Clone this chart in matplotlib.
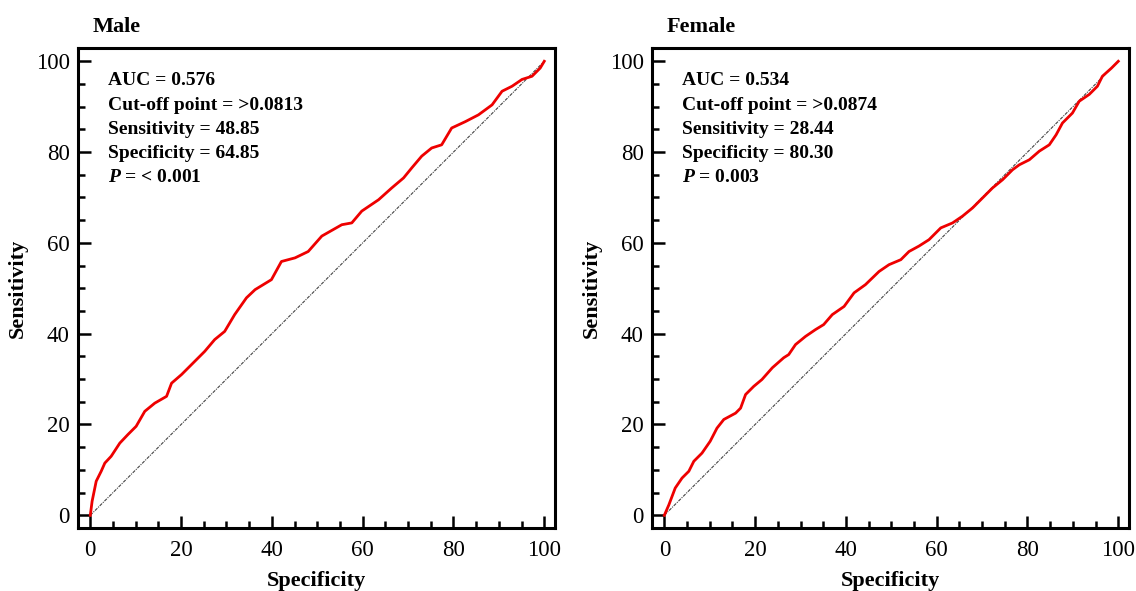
import matplotlib
matplotlib.use("Agg")
import matplotlib.pyplot as plt
from matplotlib.ticker import MultipleLocator

# --------- DATA ---------
male_x = [0, 0.4, 1.3, 2.4, 3.2, 4.6, 6.5, 8.3, 10.1, 12.0, 14.2, 16.8, 17.9,
          20.1, 23.0, 25.2, 27.4, 29.6, 31.8, 34.4, 36.3, 39.9, 42.1, 45.1,
          48.0, 51.0, 55.4, 57.6, 59.8, 63.5, 66.4, 69.0, 70.8, 73.0, 75.2,
          77.4, 79.6, 82.6, 85.5, 88.5, 90.7, 92.9, 95.1, 97.3, 99.1, 100]
male_y = [0, 3.1, 7.5, 9.7, 11.5, 13.0, 15.9, 17.8, 19.6, 22.9, 24.7, 26.2, 29.1,
          31.0, 33.9, 36.1, 38.7, 40.5, 44.2, 47.9, 49.7, 51.9, 55.9, 56.7,
          58.1, 61.5, 64.0, 64.4, 67.0, 69.5, 72.1, 74.3, 76.5, 79.1, 80.9,
          81.6, 85.3, 86.7, 88.2, 90.4, 93.4, 94.5, 96.0, 96.7, 98.5, 100]

female_x = [0, 1.0, 2.4, 3.9, 5.4, 6.5, 8.3, 10.1, 11.6, 13.1, 15.7, 16.8, 17.9,
            19.7, 21.5, 23.8, 26.3, 27.4, 28.9, 31.1, 33.3, 35.1, 37.0, 39.6,
            41.8, 44.3, 47.3, 49.5, 52.1, 53.9, 56.1, 58.3, 60.9, 63.5, 65.7,
            67.9, 70.1, 72.3, 74.5, 76.7, 78.2, 80.4, 82.6, 84.8, 86.3, 87.7,
            89.9, 91.4, 93.6, 95.4, 96.5, 98.5, 100]
female_y = [0, 2.3, 6.0, 8.2, 9.7, 11.9, 13.7, 16.3, 19.2, 21.1, 22.5, 23.6, 26.6,
            28.4, 29.9, 32.5, 34.7, 35.4, 37.6, 39.4, 40.9, 42.0, 44.2, 46.0,
            49.0, 50.8, 53.7, 55.2, 56.3, 58.1, 59.3, 60.7, 63.3, 64.4, 65.9,
            67.7, 69.9, 72.1, 73.9, 76.1, 77.2, 78.3, 80.2, 81.6, 83.8, 86.4,
            88.6, 91.2, 92.7, 94.5, 96.7, 98.5, 100]

titles = ["Male", "Female"]
male_stats = ["AUC = 0.576", "Cut-off point = >0.0813", "Sensitivity = 48.85",
              "Specificity = 64.85", "< 0.001"]
female_stats = ["AUC = 0.534", "Cut-off point = >0.0874", "Sensitivity = 28.44",
                "Specificity = 80.30", "0.003"]

plt.rcParams['font.family'] = ['Liberation Serif', 'DejaVu Serif']
plt.rcParams['mathtext.fontset'] = 'custom'
plt.rcParams['mathtext.it'] = 'Liberation Serif:italic:bold'
plt.rcParams['mathtext.rm'] = 'Liberation Serif:bold'

fig = plt.figure(figsize=(11.36, 5.91), dpi=100)
ax1 = fig.add_axes([0.0687, 0.1066, 0.42, 0.812])
ax2 = fig.add_axes([0.574, 0.1066, 0.42, 0.812])


def draw_panel(ax, xs, ys, title, stats):
    ax.plot([0, 100], [0, 100], color='#444444', lw=0.8,
            linestyle=(0, (3, 1, 1, 1)))
    ax.plot(xs, ys, color='#ee0000', lw=2.0)
    ax.set_xlim(-2.7, 102.4)
    ax.set_ylim(-2.8, 102.9)
    ax.xaxis.set_major_locator(MultipleLocator(20))
    ax.xaxis.set_minor_locator(MultipleLocator(5))
    ax.yaxis.set_major_locator(MultipleLocator(20))
    ax.yaxis.set_minor_locator(MultipleLocator(5))
    ax.tick_params(which='both', direction='in', labelsize=16.5, width=1.8,
                   top=False, right=False)
    ax.tick_params(axis='x', which='both', pad=9)
    ax.tick_params(axis='y', which='both', pad=6)
    ax.tick_params(which='major', length=9)
    ax.tick_params(which='minor', length=5)
    for sp in ax.spines.values():
        sp.set_linewidth(2.2)
    ax.set_xlabel("Specificity", fontsize=16, fontweight='bold', labelpad=7)
    ax.set_ylabel("Sensitivity", fontsize=16, fontweight='bold', labelpad=6)
    ax.text(0.031, 1.045, title, transform=ax.transAxes, fontsize=16,
            fontweight='bold', va='center', ha='left')
    ys_txt = [95.7, 90.3, 84.9, 79.6, 74.3]
    for i, s in enumerate(stats):
        if i == 4:
            s = r"$P$ = " + s
        ax.text(4.0, ys_txt[i], s, fontsize=14, fontweight='bold',
                va='center', ha='left')


draw_panel(ax1, male_x, male_y, titles[0], male_stats)
draw_panel(ax2, female_x, female_y, titles[1], female_stats)

plt.savefig("out.png", dpi=100)
plt.close()
